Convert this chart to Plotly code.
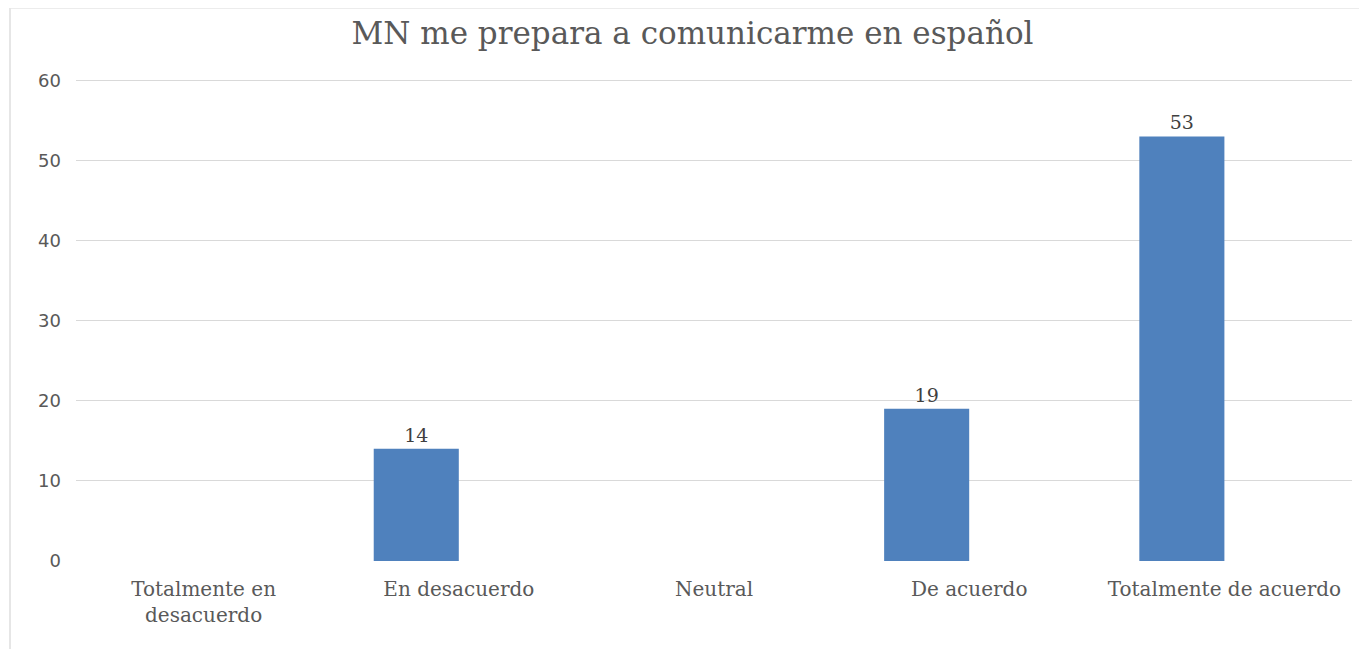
import plotly.graph_objects as go

categories = ["Totalmente en<br>desacuerdo", "En desacuerdo", "Neutral", "De acuerdo", "Totalmente de acuerdo"]
values = [0, 14, 0, 19, 53]
y_ticks = [0, 10, 20, 30, 40, 50, 60]
title_text = "MN me prepara a comunicarme en español"

labels = [str(v) if v else "" for v in values]

fig = go.Figure()
fig.add_trace(go.Bar(
    x=categories, y=values,
    width=1/3, offset=-1/3,
    marker=dict(color="#4F81BD", line=dict(width=0)),
    text=labels, textposition="outside", cliponaxis=False,
    textfont=dict(family="DejaVu Serif", size=19, color="#404040"),
    hoverinfo="x+y",
))

fig.update_layout(
    width=1359, height=641,
    margin=dict(l=68, r=15, t=70, b=88),
    paper_bgcolor="white", plot_bgcolor="white",
    showlegend=False,
    title=dict(text=title_text, x=0.5037, xanchor="center", y=0.961, yanchor="middle",
               font=dict(family="DejaVu Serif", size=31, color="#595959")),
    xaxis=dict(showgrid=False, showline=False, ticks="", zeroline=False,
               tickfont=dict(family="DejaVu Serif", size=20, color="#595959"),
               ticklabelstandoff=14),
    yaxis=dict(range=[0, 60.3], tickvals=y_ticks, showgrid=True, gridcolor="#D9D9D9", gridwidth=1,
               zeroline=False, showline=False, ticks="",
               tickfont=dict(family="DejaVu Sans", size=18, color="#595959"),
               ticklabelstandoff=14),
    shapes=[
        dict(type="line", xref="paper", yref="paper", x0=-0.0517, x1=1.2, y0=1.1455, y1=1.1455,
             line=dict(color="#E6E6E6", width=2)),
        dict(type="line", xref="paper", yref="paper", x0=-0.0517, x1=-0.0517, y0=-0.3, y1=1.1455,
             line=dict(color="#E6E6E6", width=2)),
    ],
)

fig.write_html("out.html")
